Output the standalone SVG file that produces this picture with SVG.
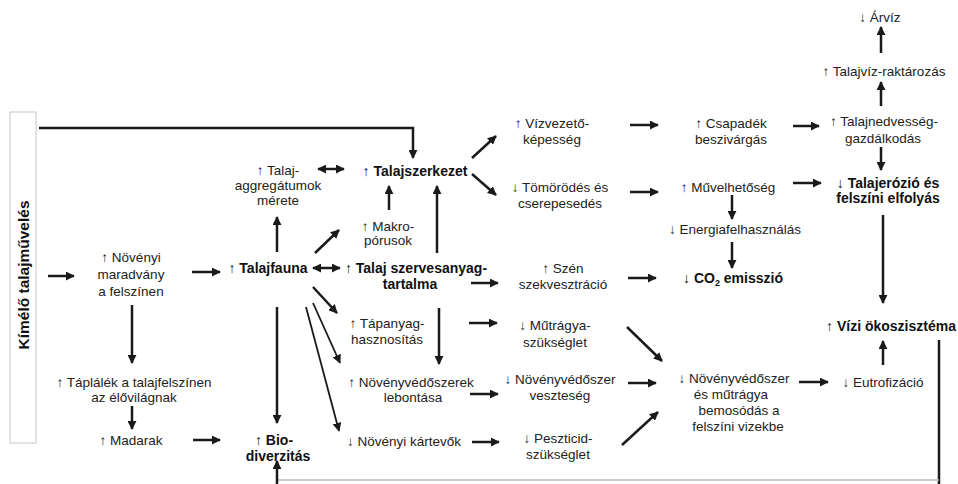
<svg xmlns="http://www.w3.org/2000/svg" width="958" height="484" viewBox="0 0 958 484">
<defs>
<marker id="ah" viewBox="0 0 10 10" markerWidth="9" markerHeight="9" refX="9" refY="5" orient="auto-start-reverse" markerUnits="userSpaceOnUse">
<path d="M0,0 L10,5 L0,10 z" fill="#1a1a1a"/>
</marker>
</defs>
<style>
text{font-family:"Liberation Sans","DejaVu Sans",Arial,sans-serif;font-size:13.5px;fill:#222;text-anchor:middle}
.b{font-weight:bold;font-size:14px;fill:#111}
.c line,.c path{stroke:#1a1a1a;stroke-width:2.5;fill:none;marker-end:url(#ah)}
.c .d{marker-start:url(#ah)}
.c .t{stroke-width:1.8}
.c .n{marker-end:none}
</style>
<rect width="958" height="484" fill="#fff"/>
<g id="kimelo">
<rect x="10" y="112" width="26" height="331" fill="#fff" stroke="#c8c8c8" stroke-width="1"/>
<text class="b" transform="translate(29,275) rotate(-90)" style="font-size:15.5px">Kímélő talajművelés</text>
</g>
<g id="novenyi-maradvany"><text x="131" y="262">↑ Növényi</text><text x="131" y="279">maradvány</text><text x="131" y="296">a felszínen</text></g>
<g id="taplalek"><text x="134" y="387">↑ Táplálék a talajfelszínen</text><text x="134" y="402">az élővilágnak</text></g>
<g id="madarak"><text x="131" y="445">↑ Madarak</text></g>
<g id="talajfauna"><text class="b" x="268" y="273">↑ Talajfauna</text></g>
<g id="szervesanyag"><text class="b" x="416" y="273">↑ Talaj szervesanyag-</text><text class="b" x="410" y="289">tartalma</text></g>
<g id="aggregatum"><text x="278" y="175">↑ Talaj-</text><text x="278" y="190">aggregátumok</text><text x="278" y="205">mérete</text></g>
<g id="talajszerkezet"><text class="b" x="415" y="176">↑ Talajszerkezet</text></g>
<g id="makroporusok"><text x="388" y="231">↑ Makro-</text><text x="388" y="245">pórusok</text></g>
<g id="vizvezeto"><text x="552" y="128">↑ Vízvezető-</text><text x="552" y="144">képesség</text></g>
<g id="tomorodes"><text x="560" y="192">↓ Tömörödés és</text><text x="560" y="208">cserepesedés</text></g>
<g id="szen"><text x="563" y="273">↑ Szén</text><text x="563" y="289">szekvesztráció</text></g>
<g id="csapadek"><text x="731" y="128">↑ Csapadék</text><text x="731" y="144">beszivárgás</text></g>
<g id="muvelhetoseg"><text x="728" y="192">↑ Művelhetőség</text></g>
<g id="energia"><text x="735" y="234">↓ Energiafelhasználás</text></g>
<g id="co2"><text class="b" x="733" y="283">↓ CO<tspan font-size="9" dy="3">2</tspan><tspan dy="-3"> emisszió</tspan></text></g>
<g id="talajnedvesseg"><text x="884" y="126">↑ Talajnedvesség-</text><text x="883" y="143">gazdálkodás</text></g>
<g id="talajviz"><text x="884" y="76">↑ Talajvíz-raktározás</text></g>
<g id="arviz"><text x="880" y="22">↓ Árvíz</text></g>
<g id="talajerozio"><text class="b" x="888" y="188">↓ Talajerózió és</text><text class="b" x="888" y="203">felszíni elfolyás</text></g>
<g id="vizi"><text class="b" x="891" y="331">↑ Vízi ökoszisztéma</text></g>
<g id="eutrofizacio"><text x="883" y="387">↓ Eutrofizáció</text></g>
<g id="bemosodas"><text x="734" y="383">↓ Növényvédőszer</text><text x="731" y="399">és műtrágya</text><text x="739" y="415">bemosódás a</text><text x="738" y="431">felszíni vizekbe</text></g>
<g id="mutragya"><text x="555" y="330">↓ Műtrágya-</text><text x="555" y="347">szükséglet</text></g>
<g id="nvsz-veszteseg"><text x="560" y="384">↓ Növényvédőszer</text><text x="560" y="400">veszteség</text></g>
<g id="peszticid"><text x="558" y="443">↓ Peszticid-</text><text x="558" y="459">szükséglet</text></g>
<g id="tapanyag"><text x="387" y="328">↑ Tápanyag-</text><text x="387" y="344">hasznosítás</text></g>
<g id="lebontas"><text x="411" y="387">↑ Növényvédőszerek</text><text x="413" y="402">lebontása</text></g>
<g id="kartevok"><text x="404" y="446">↓ Növényi kártevők</text></g>
<g id="biodiverzitas"><text class="b" x="274" y="445">↑ Bio-</text><text class="b" x="278" y="461">diverzitás</text></g>
<g class="c" id="connectors">
<path d="M39,128 H413 V158"/>
<line x1="48" y1="276" x2="74" y2="276"/>
<line x1="192" y1="272" x2="220" y2="272"/>
<line x1="132" y1="305" x2="132" y2="363"/>
<line x1="132" y1="406" x2="132" y2="429"/>
<line x1="193" y1="440" x2="220" y2="440"/>
<line class="d" x1="313" y1="268" x2="340" y2="268"/>
<line class="d" x1="318" y1="169" x2="344" y2="169"/>
<line x1="277" y1="252" x2="277" y2="217"/>
<line x1="389" y1="210" x2="389" y2="186"/>
<line x1="315" y1="253" x2="339" y2="230"/>
<line x1="437" y1="253" x2="437" y2="186"/>
<line x1="472" y1="158" x2="496" y2="136"/>
<line x1="472" y1="174" x2="496" y2="195"/>
<line x1="471" y1="283" x2="498" y2="283"/>
<line x1="630" y1="125" x2="658" y2="125"/>
<line x1="630" y1="192" x2="658" y2="192"/>
<line x1="628" y1="278" x2="656" y2="278"/>
<line x1="732" y1="195" x2="732" y2="219"/>
<line x1="732" y1="242" x2="732" y2="268"/>
<line x1="793" y1="126" x2="819" y2="126"/>
<line x1="881" y1="106" x2="881" y2="82"/>
<line x1="881" y1="53" x2="881" y2="27"/>
<line x1="881" y1="147" x2="881" y2="170"/>
<line x1="793" y1="183" x2="821" y2="183"/>
<line x1="883" y1="215" x2="883" y2="303"/>
<line x1="883" y1="365" x2="883" y2="341"/>
<line x1="799" y1="382" x2="828" y2="382"/>
<line class="n" x1="939" y1="340" x2="939" y2="484"/>
<line class="n" x1="277" y1="480" x2="939" y2="480" style="stroke:#bbb;stroke-width:1.5"/>
<line x1="277" y1="484" x2="277" y2="461"/>
<line x1="627" y1="327" x2="662" y2="361"/>
<line x1="628" y1="383" x2="656" y2="383"/>
<line x1="622" y1="445" x2="658" y2="412"/>
<line x1="469" y1="323" x2="497" y2="323"/>
<line x1="470" y1="394" x2="498" y2="394"/>
<line x1="472" y1="442" x2="499" y2="442"/>
<line x1="439" y1="308" x2="439" y2="364"/>
<line x1="313" y1="287" x2="337" y2="313"/>
<line class="t" x1="313" y1="303" x2="340" y2="363"/>
<line class="t" x1="306" y1="307" x2="339" y2="431"/>
<line x1="277" y1="307" x2="277" y2="423"/>
</g>
</svg>
